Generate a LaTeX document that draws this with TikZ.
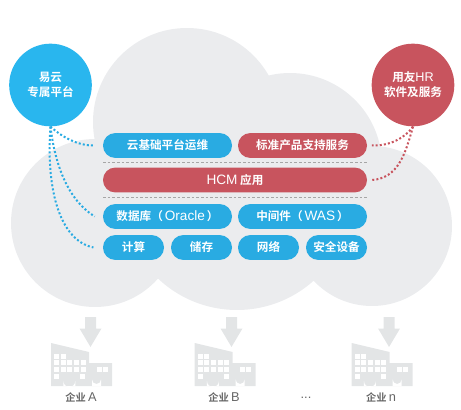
\documentclass[tikz,border=0pt]{standalone}
\usepackage{fontspec}
\setmainfont{Noto Sans CJK SC}[BoldFont={Noto Sans CJK SC Bold}]
\newfontfamily\lat{Liberation Sans}
\newcommand{\latb}[1]{{\fontsize{10.2pt}{11pt}\lat\mdseries #1}}
\newcommand{\latl}[1]{{\fontsize{9.6pt}{11pt}\lat\mdseries #1}}
\newcommand{\latc}[1]{{\fontsize{9.5pt}{11pt}\lat\mdseries #1}}
\definecolor{cloudc}{HTML}{EBECEE}
\definecolor{bluec}{HTML}{29ABE2}
\definecolor{circb}{HTML}{29B6EE}
\definecolor{redc}{HTML}{C8545E}
\definecolor{arrc}{HTML}{E3E5E6}
\definecolor{txtg}{HTML}{666666}
\tikzset{
 bar/.style={rounded corners=9.3pt,minimum height=18.7pt,inner sep=0pt,text=white,font=\fontsize{8.7pt}{10pt}\selectfont\bfseries},
 bluebar/.style={bar,fill=bluec},
 redbar/.style={bar,fill=redc},
 bigdot/.style={circle,minimum size=62pt,inner sep=0pt,text=white,align=center,font=\fontsize{8.7pt}{11.2pt}\selectfont\bfseries},
 bluedot/.style={line width=1.5pt,dash pattern=on 1.5pt off 1.6pt,draw=bluec},
 reddot/.style={line width=1.5pt,dash pattern=on 1.5pt off 1.6pt,draw=redc},
 sep/.style={draw=gray!70,line width=.6pt,dash pattern=on 2pt off 1.5pt},
 lab/.style={text=txtg,font=\fontsize{7.7pt}{10pt}\selectfont\bfseries,inner sep=0pt},
 factory/.pic={
  \fill[arrc] (51,343) -- (89,352) -- (89,363) -- (112,363) -- (112,386) -- (51,386) -- cycle;
  \foreach \x/\y in {54.3/353.5,60.7/353.5,54.3/360.2,60.7/360.2,67.3/360.2,74/360.2,80.7/360.2,54.3/367.2,60.7/367.2,67.3/367.2,74/367.2,80.7/367.2,54.3/374.2,80/374.2,96.7/367.2,102.5/367.2}
   \fill[white] (\x,\y) rectangle +(5,5);
  \fill[white] (63.3,386) -- (63.3,381) arc[start angle=180,end angle=0,radius=6] -- (75.3,386) -- cycle;
  \fill[white] (92,386) -- (92,379.5) arc[start angle=180,end angle=0,radius=4.5] -- (101,386) -- cycle;
 },
 downarr/.pic={
  \fill[arrc] (85,317) -- (96,317) -- (96,328.5) -- (101.5,328.5) -- (90.5,347) -- (79.5,328.5) -- (85,328.5) -- cycle;
 }
}
\begin{document}
\begin{tikzpicture}[x=0.75pt,y=-0.75pt]
\useasboundingbox (0,0) rectangle (461,410);
\fill[cloudc] (187,122) circle[radius=94];
\fill[cloudc] (290,165) circle[radius=92];
\fill[cloudc] (95,223) circle[radius=84];
\fill[cloudc] (372,226) circle[radius=80];
\fill[cloudc] (237,195) circle[radius=115];
\node[bigdot,fill=circb] (yi) at (50.5,85) {易云\\专属平台};
\node[bigdot,fill=redc] (yy) at (413,85) {用友\latc{HR}\\软件及服务};
\node[bluebar,minimum width=96.75pt] (a1) at (167.5,145.5) {云基础平台运维};
\node[redbar,minimum width=96.75pt] (a2) at (302.5,145.5) {标准产品支持服务};
\node[redbar,minimum width=198pt] (hcm) at (235,180) {\latb{HCM} 应用};
\node[bluebar,minimum width=96.75pt] (b1) at (167.5,216.5) {数据库（\hspace{1.5pt}\latb{Oracle}\hspace{1.5pt}）};
\node[bluebar,minimum width=96.75pt] (b2) at (302.5,216.5) {中间件（\hspace{1.5pt}\latb{WAS}\hspace{1.5pt}）};
\node[bluebar,minimum width=45.75pt] (c1) at (133.5,247.5) {计算};
\node[bluebar,minimum width=45.75pt] (c2) at (201.5,247.5) {储存};
\node[bluebar,minimum width=45.75pt] (c3) at (268.5,247.5) {网络};
\node[bluebar,minimum width=45.75pt] (c4) at (336.5,247.5) {安全设备};
\coordinate (s1l) at (103,162); \coordinate (s1r) at (367,162);
\coordinate (s2l) at (103,197); \coordinate (s2r) at (367,197);
\draw[sep] (s1l) -- (s1r);
\draw[sep] (s2l) -- (s2r);
\coordinate (e1) at ([xshift=-6pt]a1.west);
\coordinate (e2) at ([xshift=-6pt]b1.west);
\coordinate (e3) at ([xshift=-7pt]c1.west);
\coordinate (e4) at ([xshift=3.5pt]a2.east);
\coordinate (e5) at ([xshift=3.5pt]hcm.east);
\draw[bluedot] (yi.south) .. controls (62,137) and (78,146) .. (e1);
\draw[bluedot] (yi.south) .. controls (55,165) and (68,200) .. (e2);
\draw[bluedot] (yi.south) .. controls (46,185) and (58,240) .. (e3);
\draw[reddot] (yy.south) .. controls (405,138) and (390,146) .. (e4);
\draw[reddot] (yy.south) .. controls (405,155) and (398,178) .. (e5);
\pic {downarr};
\pic[xshift=105.75pt] {downarr};
\pic[xshift=223.9pt] {downarr};
\pic {factory};
\pic[xshift=107.75pt] {factory};
\pic[xshift=225.5pt] {factory};
\node[lab] (la) at (81,397) {企业 \latl{A}};
\node[lab] (lb) at (224,397) {企业 \latl{B}};
\node[lab] (ld) at (306,398) {\latl{...}};
\node[lab] (ln) at (381,397) {企业 \latl{n}};
\end{tikzpicture}
\end{document}
